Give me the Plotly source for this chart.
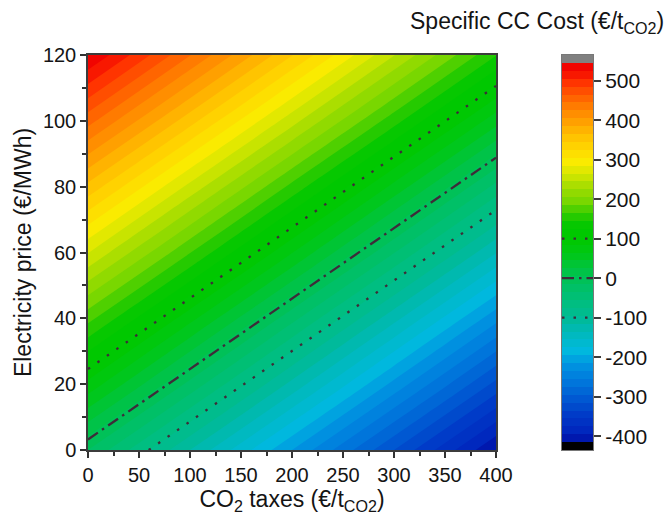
import plotly.graph_objects as go

# CO2 tax (x) and electricity price (y) grid nodes
co2_tax = [0, 100, 200, 300, 400]
elec_price = [0, 20, 40, 60, 80, 100, 120]

# Specific CC cost (€/t CO2) at each grid node, rows follow elec_price
cc_cost = [
    [-15, -115, -215, -315, -415],
    [79, -21, -121, -221, -321],
    [172, 72, -28, -128, -228],
    [266, 166, 66, -34, -134],
    [359, 259, 159, 59, -41],
    [453, 353, 253, 153, 53],
    [546, 446, 346, 246, 146],
]

# Reference cost lines (tax, price)
line_pos100_x = [0, 400]
line_pos100_y = [24.6, 110.6]
line_zero_x = [0, 400]
line_zero_y = [3.2, 88.8]
line_neg100_x = [59.5, 400]
line_neg100_y = [0, 72.9]

# Colorbar key levels for the reference lines
marker_levels = [100, 0, -100]

cbar_ticks = [-400, -300, -200, -100, 0, 100, 200, 300, 400, 500]
cbar_ticktext = [str(v) for v in cbar_ticks]

# contour levels: -415 ... 545 in steps of 20
LEV_LOW, LEV_HIGH, LEV_STEP = -415, 545, 20

# rainbow palette anchors (value, rgb)
palette = [
    (-410, (0, 20, 170)), (-386, (0, 40, 190)), (-343, (0, 60, 200)),
    (-303, (0, 90, 210)), (-260, (0, 120, 220)), (-217, (0, 150, 225)),
    (-184, (0, 185, 222)), (-130, (0, 185, 180)), (-100, (0, 186, 150)),
    (-63, (0, 190, 128)), (-20, (0, 192, 100)), (23, (0, 196, 65)),
    (63, (0, 200, 20)), (100, (0, 200, 0)), (131, (0, 200, 0)),
    (157, (40, 202, 0)), (194, (120, 215, 0)), (227, (160, 220, 0)),
    (262, (210, 230, 0)), (295, (250, 235, 0)), (328, (255, 215, 0)),
    (363, (255, 190, 0)), (395, (255, 160, 0)), (429, (255, 130, 0)),
    (465, (255, 90, 0)), (497, (255, 50, 0)), (523, (245, 12, 0)),
    (540, (240, 0, 0)),
]


def color_at(v):
    if v <= palette[0][0]:
        c = palette[0][1]
    elif v >= palette[-1][0]:
        c = palette[-1][1]
    else:
        for (v0, c0), (v1, c1) in zip(palette[:-1], palette[1:]):
            if v0 <= v <= v1:
                t = (v - v0) / (v1 - v0)
                c = tuple(round(a + (b - a) * t) for a, b in zip(c0, c1))
                break
    return "rgb(%d,%d,%d)" % c


# band midpoints inside the coloured range
mids = [LEV_LOW + LEV_STEP / 2 + LEV_STEP * k for k in range((LEV_HIGH - LEV_LOW) // LEV_STEP)]

# contour fills are sampled at level + step/2; first level starts one step above the minimum
c_start = LEV_LOW + LEV_STEP
c_end = LEV_HIGH
samples = mids + [LEV_HIGH + LEV_STEP / 2]
s_lo, s_hi = samples[0], samples[-1]
contour_scale = [[(v - s_lo) / (s_hi - s_lo), color_at(v)] for v in samples]

# colorbar: black under-range band, coloured bands, grey over-range band
bar_edges = [LEV_LOW - LEV_STEP] + [LEV_LOW + LEV_STEP * k for k in range(len(mids) + 1)] + [LEV_HIGH + LEV_STEP]
bar_colors = ["rgb(0,0,0)"] + [color_at(v) for v in mids] + ["rgb(128,128,128)"]
n_bar = len(bar_colors)
bar_scale = [[i / (n_bar - 1), c] for i, c in enumerate(bar_colors)]

FONT = "Liberation Sans, Arial, sans-serif"
TXT = "rgb(20,20,20)"
LINE_COLOR = "rgb(62,44,56)"

W, H = 667, 523
ML, MR, MT, MB = 88, 2, 55, 73
pw = W - ML - MR
ph = H - MT - MB


def px_x(p):
    return (p - ML) / pw


fig = go.Figure()

fig.add_trace(go.Contour(
    x=co2_tax, y=elec_price, z=cc_cost,
    colorscale=contour_scale, showscale=False,
    contours=dict(start=c_start, end=c_end, size=LEV_STEP, coloring="fill", showlines=False),
    line=dict(width=0),
    hoverinfo="skip",
))

dot = "2.5px,9px"
dashdot = "12px,5px,2.5px,5px"
for xs, ys, dash in [
    (line_pos100_x, line_pos100_y, dot),
    (line_zero_x, line_zero_y, dashdot),
    (line_neg100_x, line_neg100_y, dot),
]:
    fig.add_trace(go.Scatter(
        x=xs, y=ys, mode="lines",
        line=dict(color=LINE_COLOR, width=2.3, dash=dash),
        showlegend=False, hoverinfo="skip",
    ))

# colour bar drawn as a one-column heatmap
fig.add_trace(go.Heatmap(
    x=[0, 1], y=bar_edges, z=[[i] for i in range(n_bar)],
    zmin=0, zmax=n_bar - 1, colorscale=bar_scale, showscale=False,
    xaxis="x2", yaxis="y2", hoverinfo="skip",
))

# line-style keys across the colour bar
for lev, dash in zip(marker_levels, [dot, dashdot, dot]):
    fig.add_trace(go.Scatter(
        x=[0, 1], y=[lev, lev], mode="lines", xaxis="x2", yaxis="y2",
        line=dict(color=LINE_COLOR, width=2.3, dash=dash),
        showlegend=False, hoverinfo="skip",
    ))

tick_font = dict(family=FONT, size=20, color=TXT)
cbar_font = dict(family=FONT, size=21, color=TXT)
title_font = dict(family=FONT, size=23, color=TXT)
fig.update_layout(
    width=W, height=H,
    margin=dict(l=ML, r=MR, t=MT, b=MB, autoexpand=False),
    paper_bgcolor="white", plot_bgcolor="white",
    showlegend=False,
    xaxis=dict(
        domain=[0, px_x(496)], range=[0, 400],
        tickvals=list(range(0, 401, 50)),
        ticks="outside", ticklen=6, tickwidth=1.5, tickcolor="rgb(50,50,50)",
        minor=dict(tickvals=list(range(25, 400, 50)), ticks="outside", ticklen=4,
                   tickwidth=1.5, tickcolor="rgb(50,50,50)"),
        showline=True, linecolor="rgb(60,60,60)", linewidth=1.5, mirror=True,
        showgrid=False, zeroline=False,
        tickfont=tick_font,
        title=dict(text="CO<sub>2</sub> taxes (€/t<sub>CO2</sub>)", font=title_font, standoff=6),
    ),
    yaxis=dict(
        range=[0, 120],
        tickvals=list(range(0, 121, 20)),
        ticks="outside", ticklen=6, tickwidth=1.5, tickcolor="rgb(50,50,50)",
        minor=dict(tickvals=list(range(10, 120, 20)), ticks="outside", ticklen=4,
                   tickwidth=1.5, tickcolor="rgb(50,50,50)"),
        showline=True, linecolor="rgb(60,60,60)", linewidth=1.5, mirror=True,
        showgrid=False, zeroline=False,
        tickfont=tick_font,
        title=dict(text="Electricity price (€/MWh)", font=title_font, standoff=5),
    ),
    xaxis2=dict(domain=[px_x(562), px_x(593)], range=[0, 1],
                showticklabels=False, ticks="", showgrid=False, zeroline=False,
                showline=True, linecolor="rgb(120,120,120)", linewidth=1, mirror=True,
                anchor="y2", fixedrange=True),
    yaxis2=dict(domain=[0, 1], range=[bar_edges[0], bar_edges[-1]],
                side="right", anchor="x2",
                tickvals=cbar_ticks, ticktext=cbar_ticktext,
                ticks="outside", ticklen=7, tickwidth=1.5, tickcolor="rgb(60,60,60)",
                tickfont=cbar_font, showgrid=False, zeroline=False,
                showline=True, linecolor="rgb(120,120,120)", linewidth=1, mirror=True,
                fixedrange=True),
    annotations=[dict(
        text="Specific CC Cost (€/t<sub>CO2</sub>)",
        xref="paper", yref="paper", x=px_x(666), y=(H - MB - 22) / ph,
        xanchor="right", yanchor="middle", showarrow=False,
        font=dict(family=FONT, size=23, color=TXT),
    )],
)

fig.write_html("out.html")
